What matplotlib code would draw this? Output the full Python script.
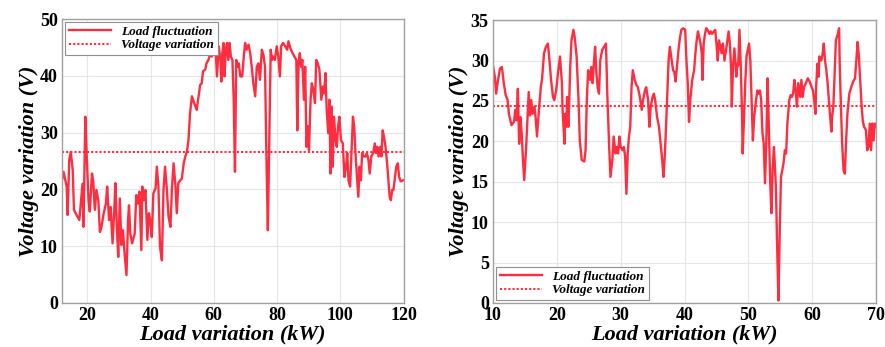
import matplotlib
matplotlib.use("Agg")
import matplotlib.pyplot as plt

# left panel: load fluctuation over 12-120 kW
load_a = [12.0, 12.5, 13.2, 13.5, 13.8, 14.3, 14.8, 15.4, 15.8, 16.6, 17.5, 17.9, 18.5, 18.8, 19.4,
          19.8, 20.4, 20.8, 21.5, 21.9, 22.4, 22.9, 23.5, 24.0, 24.5, 25.2, 25.9, 26.3, 26.9, 27.4,
          28.0, 28.5, 28.9, 29.4, 29.8, 30.3, 30.8, 31.3, 31.8, 32.4, 32.9, 33.2, 33.6, 34.2, 35.0,
          35.5, 36.0, 36.5, 37.1, 37.4, 37.9, 38.4, 39.0, 39.5, 39.9, 40.4, 40.9, 41.6, 42.0, 42.5,
          43.0, 43.6, 44.1, 44.6, 45.1, 45.7, 46.3, 46.8, 47.3, 47.9, 48.3, 48.8, 49.4, 49.9, 50.5,
          51.0, 51.5, 52.0, 52.5, 53.1, 53.8, 54.6, 55.2, 55.7, 56.2, 56.6, 57.3, 57.7, 58.3, 58.8,
          59.4, 60.5, 61.0, 61.6, 62.1, 62.4, 62.7, 63.1, 63.4, 63.8, 64.2, 64.6, 65.0, 65.4, 65.9,
          66.3, 66.7, 67.1, 67.5, 67.9, 68.4, 69.0, 69.4, 69.9, 70.4, 71.0, 71.5, 72.0, 72.5, 73.1,
          73.6, 74.1, 74.6, 75.2, 75.7, 76.2, 76.7, 77.1, 77.6, 78.0, 78.4, 78.8, 79.3, 79.9, 80.4,
          80.9, 81.3, 81.9, 82.6, 83.2, 83.6, 84.2, 84.9, 85.5, 86.1, 86.4, 86.8, 87.2, 87.6, 88.0,
          88.5, 88.9, 89.3, 89.7, 90.1, 90.6, 91.0, 91.5, 92.0, 92.4, 92.9, 93.4, 94.0, 94.5, 94.9,
          95.3, 95.7, 96.2, 96.6, 96.9, 97.2, 97.6, 98.0, 98.5, 98.9, 99.3, 99.7, 100.2, 100.8, 101.3,
          101.8, 102.2, 102.6, 103.1, 103.6, 104.0, 104.4, 104.8, 105.2, 105.7, 106.1, 106.5, 106.9, 107.4, 108.0,
          108.4, 108.9, 109.3, 109.8, 110.4, 110.9, 111.3, 111.7, 112.1, 112.6, 113.0, 113.4, 113.8, 114.3, 114.8,
          115.2, 115.6, 116.0, 116.4, 116.8, 117.3, 117.7, 118.2, 118.6, 119.1, 119.9]
volt_a = [21.6, 23.1, 21.3, 20.5, 15.5, 25.2, 26.6, 23.4, 16.4, 15.5, 14.6, 17.2, 21.0, 13.4, 32.8,
          26.4, 18.1, 16.1, 22.8, 21.4, 16.4, 19.9, 18.1, 12.5, 13.4, 15.8, 17.5, 20.5, 14.6, 16.9,
          10.5, 15.8, 21.1, 12.8, 8.1, 18.4, 10.2, 12.8, 8.7, 4.9, 14.6, 17.2, 12.2, 10.5, 12.2,
          19.0, 17.5, 19.6, 9.3, 20.5, 18.1, 19.9, 11.1, 15.8, 14.6, 11.6, 19.3, 20.2, 24.0, 20.5,
          9.9, 7.5, 19.9, 24.0, 20.5, 15.2, 13.4, 20.5, 24.6, 20.5, 15.8, 21.1, 21.6, 21.9, 24.6,
          25.8, 26.6, 28.7, 33.4, 36.4, 35.2, 34.0, 36.4, 38.4, 38.7, 40.8, 41.1, 42.2, 42.8, 43.7,
          43.4, 45.8, 39.9, 45.2, 42.8, 39.0, 44.0, 45.8, 39.9, 44.6, 45.8, 42.8, 45.8, 43.4, 42.8,
          35.8, 23.1, 42.8, 41.6, 42.2, 39.9, 39.9, 42.8, 45.8, 44.6, 45.5, 44.0, 41.6, 38.7, 36.4,
          41.6, 42.2, 39.3, 44.6, 43.7, 41.6, 24.0, 12.8, 29.9, 44.6, 42.8, 43.4, 42.8, 45.2, 43.4,
          39.9, 45.2, 45.8, 45.2, 44.6, 46.1, 44.9, 44.0, 43.4, 42.8, 30.4, 42.2, 44.0, 41.6, 42.8,
          35.8, 41.6, 27.5, 31.1, 26.9, 35.8, 38.7, 37.5, 35.2, 42.8, 42.2, 41.1, 35.8, 38.1, 36.9,
          40.5, 34.0, 29.9, 35.8, 22.8, 34.6, 24.0, 32.8, 28.7, 27.5, 31.1, 32.8, 28.7, 28.1, 22.2,
          24.0, 26.4, 21.6, 20.5, 27.5, 32.8, 31.1, 26.4, 22.8, 18.7, 24.0, 21.6, 26.4, 25.8, 25.8,
          26.4, 25.2, 22.8, 25.8, 26.4, 28.1, 26.4, 27.5, 25.8, 27.5, 25.8, 30.4, 29.3, 27.5, 24.6,
          21.6, 18.7, 18.1, 19.9, 19.9, 22.2, 24.0, 24.6, 22.2, 21.4, 21.6]
mean_a = 26.5

# right panel: load fluctuation over 10-70 kW
load_b = [10.0, 10.3, 10.5, 10.8, 11.1, 11.4, 11.7, 12.0, 12.3, 12.5, 12.9, 13.3, 13.5, 13.7, 13.9,
          14.1, 14.3, 14.5, 14.7, 14.9, 15.2, 15.4, 15.6, 15.8, 16.0, 16.2, 16.5, 16.7, 16.9, 17.2,
          17.5, 17.7, 18.0, 18.3, 18.6, 18.8, 19.1, 19.4, 19.6, 19.9, 20.2, 20.5, 20.8, 20.9, 21.2,
          21.3, 21.5, 21.6, 21.8, 21.9, 22.1, 22.3, 22.6, 22.8, 23.1, 23.4, 23.6, 23.9, 24.3, 24.5,
          24.7, 24.9, 25.2, 25.4, 25.6, 25.8, 26.0, 26.2, 26.4, 26.6, 26.8, 27.1, 27.4, 27.7, 27.9,
          28.2, 28.4, 28.7, 28.9, 29.2, 29.4, 29.6, 29.8, 30.0, 30.3, 30.5, 30.7, 30.9, 31.1, 31.3,
          31.5, 31.7, 31.9, 32.2, 32.5, 32.7, 33.0, 33.3, 33.5, 33.8, 34.0, 34.3, 34.5, 34.7, 35.0,
          35.2, 35.4, 35.7, 36.0, 36.25, 36.5, 36.7, 36.9, 37.1, 37.3, 37.5, 37.7, 37.9, 38.2, 38.4,
          38.6, 38.9, 39.1, 39.3, 39.5, 39.8, 40.1, 40.3, 40.5, 40.7, 40.9, 41.2, 41.5, 41.7, 41.9,
          42.1, 42.3, 42.5, 42.7, 42.8, 43.0, 43.2, 43.4, 43.6, 43.9, 44.1, 44.3, 44.6, 44.8, 45.0,
          45.2, 45.4, 45.6, 45.8, 46.0, 46.25, 46.5, 46.7, 46.9, 47.1, 47.3, 47.4, 47.6, 47.8, 48.0,
          48.1, 48.3, 48.4, 48.6, 48.8, 49.0, 49.1, 49.3, 49.5, 49.7, 49.9, 50.1, 50.3, 50.5, 50.7,
          50.9, 51.2, 51.4, 51.6, 51.8, 52.0, 52.2, 52.4, 52.6, 52.8, 53.0, 53.2, 53.4, 53.6, 53.8,
          54.0, 54.3, 54.5, 54.7, 54.9, 55.1, 55.3, 55.5, 55.7, 55.9, 56.1, 56.4, 56.6, 56.8, 57.0,
          57.2, 57.4, 57.6, 57.8, 58.1, 58.3, 58.5, 58.7, 59.0, 59.3, 59.6, 59.9, 60.1, 60.3, 60.5,
          60.6, 60.8, 61.0, 61.1, 61.4, 61.6, 61.8, 62.0, 62.2, 62.4, 62.6, 62.8, 63.0, 63.1, 63.3,
          63.5, 63.7, 64.0, 64.2, 64.3, 64.5, 64.7, 64.9, 65.1, 65.3, 65.5, 65.8, 66.1, 66.4, 66.7,
          66.9, 67.1, 67.3, 67.5, 67.7, 67.9, 68.1, 68.4, 68.6, 68.8, 69.0, 69.2, 69.4, 69.6, 69.8,
          70.0]
volt_b = [29.4, 28.0, 25.9, 27.6, 29.0, 29.2, 27.2, 25.7, 25.1, 23.4, 22.0, 22.4, 23.9, 22.6, 26.5,
          19.7, 23.0, 21.0, 17.7, 15.2, 19.3, 22.6, 26.1, 23.2, 25.1, 23.4, 24.3, 22.8, 20.6, 23.9,
          26.7, 27.8, 30.9, 31.7, 32.1, 30.5, 27.6, 25.5, 25.1, 26.3, 28.6, 30.5, 27.2, 23.9, 19.7,
          23.4, 21.8, 25.5, 21.8, 23.9, 29.2, 32.5, 33.8, 32.9, 30.5, 25.1, 20.1, 17.7, 17.5, 18.9,
          25.1, 28.8, 27.6, 29.2, 27.2, 29.6, 31.7, 28.4, 26.7, 25.9, 30.0, 31.3, 31.7, 32.1, 25.9,
          19.3, 15.6, 17.7, 20.6, 18.5, 19.3, 18.5, 20.6, 19.3, 18.9, 19.3, 18.1, 13.5, 18.5, 20.6,
          21.8, 26.7, 28.8, 27.6, 26.9, 26.7, 25.5, 23.9, 25.1, 26.3, 26.7, 25.1, 21.8, 24.3, 25.5,
          25.9, 25.1, 23.0, 21.8, 19.7, 17.7, 15.6, 18.1, 21.8, 25.9, 30.0, 31.7, 30.5, 28.8, 28.6,
          27.4, 30.0, 31.7, 32.9, 33.8, 34.0, 33.8, 30.0, 27.2, 22.4, 25.1, 27.6, 28.8, 30.9, 32.5,
          33.6, 32.9, 32.1, 30.9, 27.6, 32.1, 33.3, 34.0, 33.8, 33.3, 33.6, 33.3, 33.6, 33.8, 32.1,
          30.0, 32.5, 31.7, 30.9, 32.1, 30.0, 31.3, 32.5, 33.6, 32.1, 28.8, 24.3, 29.4, 31.5, 29.4,
          28.0, 29.6, 29.4, 33.8, 29.4, 23.4, 18.5, 22.6, 27.2, 30.5, 31.3, 32.1, 30.0, 25.1, 20.1,
          23.0, 25.1, 26.3, 25.9, 26.3, 25.1, 21.0, 19.7, 14.8, 19.7, 27.8, 21.8, 15.2, 11.1, 16.8,
          19.3, 14.4, 6.9, 0.3, 8.6, 15.6, 16.4, 17.3, 18.9, 18.5, 22.2, 25.1, 25.7, 25.5, 25.9,
          27.6, 26.3, 24.3, 27.2, 25.5, 27.6, 25.5, 26.7, 27.2, 27.8, 27.4, 26.7, 26.3, 25.1, 23.4,
          26.7, 29.6, 28.0, 30.5, 30.0, 30.7, 32.1, 30.0, 28.8, 27.2, 25.1, 23.0, 21.2, 23.0, 24.3,
          28.4, 32.5, 33.3, 34.0, 29.4, 23.9, 19.3, 16.4, 16.0, 20.1, 23.4, 25.9, 26.7, 27.4, 27.8,
          30.0, 32.3, 30.5, 27.6, 24.7, 22.6, 21.8, 21.4, 18.9, 19.3, 22.2, 18.9, 22.2, 20.1, 22.2,
          21.8]
mean_b = 24.35

line_color = "#ff2d3f"
serif = ["Liberation Serif", "DejaVu Serif"]
plt.rcParams["font.family"] = serif
plt.rcParams["font.weight"] = "bold"

fig = plt.figure(figsize=(8.85, 3.47), dpi=100)
ax1 = fig.add_axes([0.070, 0.127, 0.386, 0.818])
ax2 = fig.add_axes([0.557, 0.127, 0.433, 0.815])

panels = [
    (ax1, load_a, volt_a, mean_a, (12, 120), range(20, 121, 20), (0, 50), range(0, 51, 10), "upper left"),
    (ax2, load_b, volt_b, mean_b, (10, 70), range(10, 71, 10), (0, 35), range(0, 36, 5), "lower left"),
]

for ax, xs, ys, m, xl, xt, yl, yt, loc in panels:
    ax.plot(xs, ys, color=line_color, lw=1.7, label="Load fluctuation")
    ax.axhline(m, color=line_color, lw=1.5, ls=(0, (1, 1)), label="Voltage variation")
    ax.set_xlim(*xl)
    ax.set_ylim(*yl)
    ax.set_xticks(list(xt))
    ax.set_yticks(list(yt))
    ax.grid(True, color="#e6e6e6", lw=0.8)
    ax.set_axisbelow(True)
    for s in ax.spines.values():
        s.set_color("#a0a0a0")
        s.set_linewidth(1.0)
    ax.tick_params(direction="in", length=0, labelsize=13, pad=3)
    for t in ax.get_xticklabels() + ax.get_yticklabels():
        t.set_fontweight("bold")
    ax.set_xlabel("Load variation (kW)", fontsize=16, fontweight="bold", style="italic", labelpad=0)
    ax.set_ylabel("Voltage variation (V)", fontsize=16, fontweight="bold", style="italic", labelpad=1)
    leg = ax.legend(loc=loc, fancybox=False, framealpha=1, borderaxespad=0.2,
                    prop={"family": serif, "weight": "bold", "style": "italic", "size": 9.5},
                    handlelength=3.2, labelspacing=0.1, borderpad=0.3)
    leg.get_frame().set_edgecolor("#909090")
    leg.get_frame().set_linewidth(0.8)

fig.savefig("out.png", dpi=100)
